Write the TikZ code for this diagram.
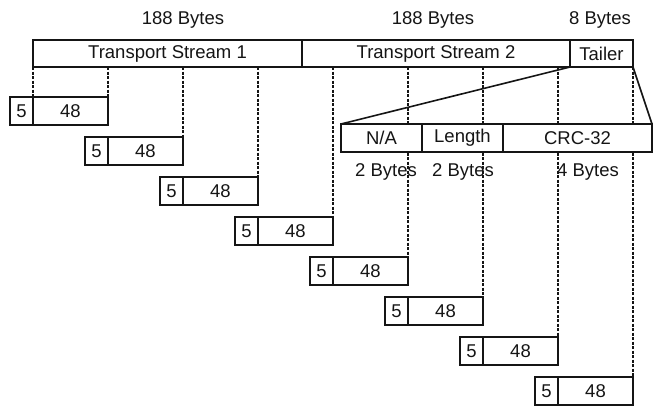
\documentclass[tikz,border=0pt]{standalone}
\usepackage{fontspec}
\setmainfont{Liberation Sans}
\usetikzlibrary{positioning}
\definecolor{ink}{HTML}{151515}
\tikzset{
  cell/.style={draw=ink,line width=1.8pt,fill=white,inner sep=0pt,outer sep=0pt,
    minimum height=28pt,font=\fontsize{18.5}{21}\selectfont,text=ink},
  link/.style={draw=ink,line width=1.2pt,dash pattern=on 3pt off 1.5pt},
  label/.style={font=\fontsize{18.5}{21}\selectfont,text=ink,inner sep=0pt}
}

\begin{document}
\begin{tikzpicture}[x=1pt,y=-1pt]
  \useasboundingbox (0,0) rectangle (654,405);

  % packet of two streams and tailer
  \node[cell,minimum width=269pt,minimum height=27pt,anchor=north west] (ts1) at (33,40)
    {Transport Stream 1};
  \node[cell,minimum width=268pt,minimum height=27pt,anchor=north west] (ts2) at (ts1.north east)
    {Transport Stream 2};
  \node[cell,minimum width=63pt,minimum height=27pt,anchor=north west] (tailer) at (ts2.north east)
    {Tailer};

  % cells
  \foreach \i in {1,...,8} {
    \node[cell,minimum width=23pt,anchor=north east] (hdr\i) at ({33+75*(\i-1)},{97+40*(\i-1)}) {5};
    \node[cell,minimum width=75pt,anchor=north west] (pay\i) at (hdr\i.north east) {48};
  }

  \draw[link] (ts1.south west) -- (hdr1.north east);
  \foreach \i in {1,...,8}
    \draw[link] (pay\i.north east |- ts1.south) -- (pay\i.north east);

  % tailer fields
  \node[cell,minimum width=81pt,anchor=north west] (na) at (341,124) {N/A};
  \node[cell,minimum width=81pt,anchor=north west] (len) at (na.north east) {Length};
  \node[cell,minimum width=149pt,anchor=north west] (crc) at (len.north east) {CRC-32};
  \draw[line width=1.6pt,draw=ink] (tailer.south west) -- (na.north west);
  \draw[line width=1.6pt,draw=ink] (tailer.south east) -- (crc.north east);

  \node[label] (b1) at (183,20) {188 Bytes};
  \node[label] (b2) at (433,20) {188 Bytes};
  \node[label] (b3) at (600,20) {8 Bytes};
  \node[label] (b4) at (386,172) {2 Bytes};
  \node[label] (b5) at (463,172) {2 Bytes};
  \node[label] (b6) at (588,172) {4 Bytes};
\end{tikzpicture}
\end{document}
